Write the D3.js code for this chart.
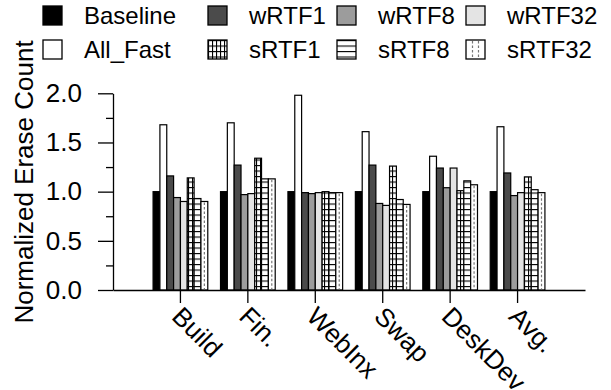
<!DOCTYPE html>
<html>
<head>
<meta charset="utf-8">
<script src="https://cdn.jsdelivr.net/npm/d3@7"></script>
<style>
  body { margin: 0; background: #fff; }
  text { font-family: "Liberation Sans", Arial, sans-serif; fill: #000; }
</style>
</head>
<body>
<svg id="chart"></svg>
<script>
// workloads on the x axis
const categories = ['Build', 'Fin.', 'WebInx', 'Swap', 'DeskDev', 'Avg.'];
const seriesNames = ['Baseline', 'All_Fast', 'wRTF1', 'wRTF8', 'wRTF32', 'sRTF1', 'sRTF8', 'sRTF32'];

// normalized erase count, one array per series (same order as categories)
const baseline = [1.00, 1.00, 1.00, 1.00, 1.00, 1.00];
const allFast  = [1.68, 1.70, 1.98, 1.61, 1.36, 1.66];
const wRTF1    = [1.16, 1.27, 0.99, 1.27, 1.24, 1.19];
const wRTF8    = [0.94, 0.97, 0.98, 0.88, 1.04, 0.96];
const wRTF32   = [0.90, 0.98, 0.99, 0.86, 1.24, 0.99];
const sRTF1    = [1.14, 1.34, 1.00, 1.26, 1.01, 1.15];
const sRTF8    = [0.93, 1.13, 0.99, 0.92, 1.11, 1.02];
const sRTF32   = [0.90, 1.13, 0.99, 0.87, 1.07, 0.99];

const yTicks = [0, 0.5, 1.0, 1.5, 2.0];
const yMinorTicks = [0.25, 0.75, 1.25, 1.75];

const values = [baseline, allFast, wRTF1, wRTF8, wRTF32, sRTF1, sRTF8, sRTF32];

const config = {
    width: 611,
    height: 390,
    left: 113,
    right: 585,
    top: 93.3,
    bottom: 290,
    groupWidth: 54.7
};

// fills: solid grays, or a pattern id
const fills = {
    'Baseline': '#000000',
    'All_Fast': '#ffffff',
    'wRTF1': '#4b4b4b',
    'wRTF8': '#9c9c9c',
    'wRTF32': '#e4e4e4',
    'sRTF1': 'url(#grid)',
    'sRTF8': 'url(#hlines)',
    'sRTF32': '#ffffff'
};

const svg = d3.select('#chart')
    .attr('width', config.width)
    .attr('height', config.height);

// patterns
const defs = svg.append('defs');
const grid = defs.append('pattern')
    .attr('id', 'grid')
    .attr('patternUnits', 'userSpaceOnUse')
    .attr('width', 4)
    .attr('height', 5.5);
grid.append('rect').attr('width', 4).attr('height', 5.5).attr('fill', '#fff');
grid.append('line').attr('x1', 0).attr('x2', 4).attr('y1', 0.5).attr('y2', 0.5)
    .attr('stroke', '#000').attr('stroke-width', 1.2);
grid.append('line').attr('x1', 0.5).attr('x2', 0.5).attr('y1', 0).attr('y2', 5.5)
    .attr('stroke', '#000').attr('stroke-width', 1.2);

const hlines = defs.append('pattern')
    .attr('id', 'hlines')
    .attr('patternUnits', 'userSpaceOnUse')
    .attr('width', 4)
    .attr('height', 5.5);
hlines.append('rect').attr('width', 4).attr('height', 5.5).attr('fill', '#fff');
hlines.append('line').attr('x1', 0).attr('x2', 4).attr('y1', 0.5).attr('y2', 0.5)
    .attr('stroke', '#000').attr('stroke-width', 1.2);

// scales
const xScale = d3.scaleBand()
    .domain(categories)
    .range([config.left, config.right])
    .paddingInner(0)
    .paddingOuter(0.5);

const x1 = d3.scaleBand()
    .domain(seriesNames)
    .range([-config.groupWidth / 2, config.groupWidth / 2]);

const yScale = d3.scaleLinear()
    .domain([0, 2])
    .range([config.bottom, config.top]);

// bars
const rows = [];
categories.forEach((c, i) => {
    seriesNames.forEach((s, j) => {
        rows.push({ cat: c, key: s, value: values[j][i] });
    });
});

const center = c => xScale(c) + xScale.bandwidth() / 2;

svg.append('g').selectAll('rect')
    .data(rows)
    .join('rect')
    .attr('x', d => center(d.cat) + x1(d.key))
    .attr('y', d => yScale(d.value))
    .attr('width', x1.bandwidth())
    .attr('height', d => yScale(0) - yScale(d.value))
    .attr('fill', d => fills[d.key])
    .attr('stroke', '#000')
    .attr('stroke-width', 1.2);

// dotted centre line for sRTF32
svg.append('g').selectAll('line')
    .data(rows.filter(d => d.key === 'sRTF32'))
    .join('line')
    .attr('x1', d => center(d.cat) + x1(d.key) + x1.bandwidth() / 2)
    .attr('x2', d => center(d.cat) + x1(d.key) + x1.bandwidth() / 2)
    .attr('y1', d => yScale(d.value) + 1)
    .attr('y2', yScale(0))
    .attr('stroke', '#777')
    .attr('stroke-width', 1.2)
    .attr('stroke-dasharray', '2.5,2');

// y axis
const yAxis = d3.axisLeft(yScale)
    .tickValues(yTicks)
    .tickSize(15)
    .tickSizeOuter(0)
    .tickPadding(16)
    .tickFormat(d3.format('.1f'));

const yAxisG = svg.append('g')
    .attr('transform', `translate(${config.left},0)`)
    .call(yAxis);
yAxisG.selectAll('text').style('font-size', '26px');

svg.append('g')
    .attr('transform', `translate(${config.left},0)`)
    .call(d3.axisLeft(yScale).tickValues(yMinorTicks).tickSize(7).tickFormat(''))
    .call(g => g.select('.domain').remove());

// x axis
const xAxis = d3.axisBottom(xScale)
    .tickSize(13)
    .tickSizeOuter(0);

svg.append('g')
    .attr('transform', `translate(0,${config.bottom})`)
    .call(xAxis)
    .selectAll('text')
    .attr('x', 0)
    .attr('y', 0)
    .attr('dy', 0)
    .attr('text-anchor', 'start')
    .attr('transform', 'translate(-10,28) rotate(45)')
    .style('font-size', '26px');

svg.selectAll('.domain, .tick line').attr('stroke', '#000').attr('stroke-width', 1.3);

// axis title
svg.append('text')
    .attr('transform', 'translate(33,182) rotate(-90)')
    .attr('text-anchor', 'middle')
    .style('font-size', '26px')
    .text('Normalized Erase Count');

// legend
const legendX = [43, 208, 337, 466];
const legendY = [6, 40];
const legend = svg.append('g');
seriesNames.forEach((s, i) => {
    const col = [0, 0, 1, 2, 3, 1, 2, 3][i];
    const row = [0, 1, 0, 0, 0, 1, 1, 1][i];
    const g = legend.append('g')
        .attr('transform', `translate(${legendX[col]},${legendY[row]})`);
    g.append('rect')
        .attr('x', 0).attr('y', 0)
        .attr('width', 19).attr('height', 19)
        .attr('fill', fills[s])
        .attr('stroke', '#000')
        .attr('stroke-width', 1.3);
    if (s === 'sRTF32') {
        [6.5, 12.5].forEach(lx => {
            g.append('line')
                .attr('x1', lx).attr('x2', lx)
                .attr('y1', 1).attr('y2', 18)
                .attr('stroke', '#777')
                .attr('stroke-width', 1.2)
                .attr('stroke-dasharray', '2.5,2');
        });
    }
    g.append('text')
        .attr('x', 41)
        .attr('y', 18)
        .style('font-size', '24px')
        .text(s);
});
</script>
</body>
</html>
